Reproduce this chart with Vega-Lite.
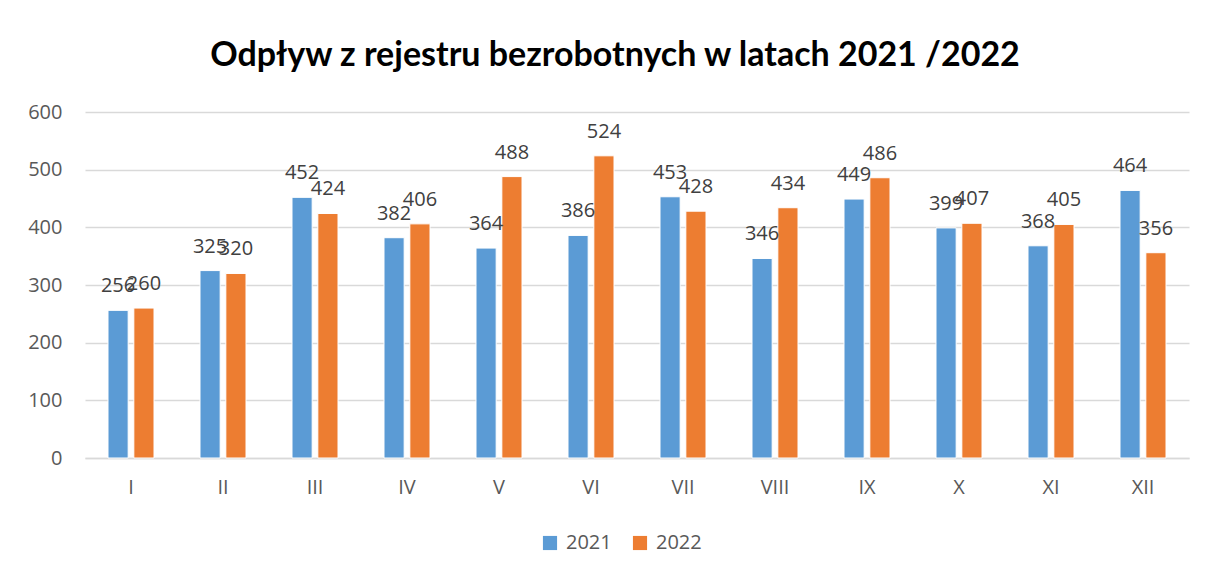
{
  "$schema": "https://vega.github.io/schema/vega-lite/v6.json",
  "width": 1104,
  "height": 346,
  "autosize": {"type": "none"},
  "padding": {"left": 85, "top": 112, "right": 19, "bottom": 113},
  "background": "white",
  "title": {
    "text": "Odpływ z rejestru bezrobotnych w latach 2021 /2022",
    "font": "Lato",
    "fontSize": 34,
    "fontWeight": "bold",
    "color": "#000000",
    "anchor": "middle",
    "offset": 29,
    "dx": -22
  },
  "data": {
    "values": [
      {"m": "I", "rok": "2021", "v": 256}, {"m": "I", "rok": "2022", "v": 260},
      {"m": "II", "rok": "2021", "v": 325}, {"m": "II", "rok": "2022", "v": 320},
      {"m": "III", "rok": "2021", "v": 452}, {"m": "III", "rok": "2022", "v": 424},
      {"m": "IV", "rok": "2021", "v": 382}, {"m": "IV", "rok": "2022", "v": 406},
      {"m": "V", "rok": "2021", "v": 364}, {"m": "V", "rok": "2022", "v": 488},
      {"m": "VI", "rok": "2021", "v": 386}, {"m": "VI", "rok": "2022", "v": 524},
      {"m": "VII", "rok": "2021", "v": 453}, {"m": "VII", "rok": "2022", "v": 428},
      {"m": "VIII", "rok": "2021", "v": 346}, {"m": "VIII", "rok": "2022", "v": 434},
      {"m": "IX", "rok": "2021", "v": 449}, {"m": "IX", "rok": "2022", "v": 486},
      {"m": "X", "rok": "2021", "v": 399}, {"m": "X", "rok": "2022", "v": 407},
      {"m": "XI", "rok": "2021", "v": 368}, {"m": "XI", "rok": "2022", "v": 405},
      {"m": "XII", "rok": "2021", "v": 464}, {"m": "XII", "rok": "2022", "v": 356}
    ]
  },
  "encoding": {
    "x": {
      "field": "m", "type": "nominal", "sort": null,
      "scale": {"paddingInner": 0.5, "paddingOuter": 0.25},
      "axis": {"title": null, "labelAngle": 0, "labelFont": "Open Sans", "labelFontSize": 20, "labelColor": "#595959", "ticks": false, "domainColor": "#d9d9d9", "domainWidth": 1.5, "labelPadding": 19, "grid": false}
    },
    "xOffset": {"field": "rok", "type": "nominal", "scale": {"paddingInner": 0.22}},
    "y": {
      "field": "v", "type": "quantitative",
      "scale": {"domain": [0, 600], "nice": false},
      "axis": {"title": null, "values": [0, 100, 200, 300, 400, 500, 600], "labelOverlap": false, "labelFont": "Open Sans", "labelFontSize": 20, "labelColor": "#595959", "ticks": false, "domain": false, "gridColor": "#d9d9d9", "gridWidth": 1.5, "labelPadding": 23}
    }
  },
  "layer": [
    {
      "mark": {"type": "bar", "stroke": "white", "strokeWidth": 1},
      "encoding": {
        "color": {
          "field": "rok", "type": "nominal",
          "scale": {"domain": ["2021", "2022"], "range": ["#5B9BD5", "#ED7D31"]},
          "legend": {"title": null, "orient": "none", "legendX": 455, "legendY": 421, "direction": "horizontal", "symbolType": "square", "symbolSize": 200, "symbolStrokeWidth": 0, "labelFont": "Open Sans", "labelFontSize": 20, "labelColor": "#595959", "columnPadding": 18, "labelOffset": 6}
        }
      }
    },
    {
      "mark": {"type": "text", "baseline": "alphabetic", "dy": -18, "font": "Open Sans", "fontSize": 20, "color": "#404040"},
      "encoding": {"text": {"field": "v", "type": "quantitative"}}
    }
  ],
  "config": {"view": {"stroke": null}}
}
